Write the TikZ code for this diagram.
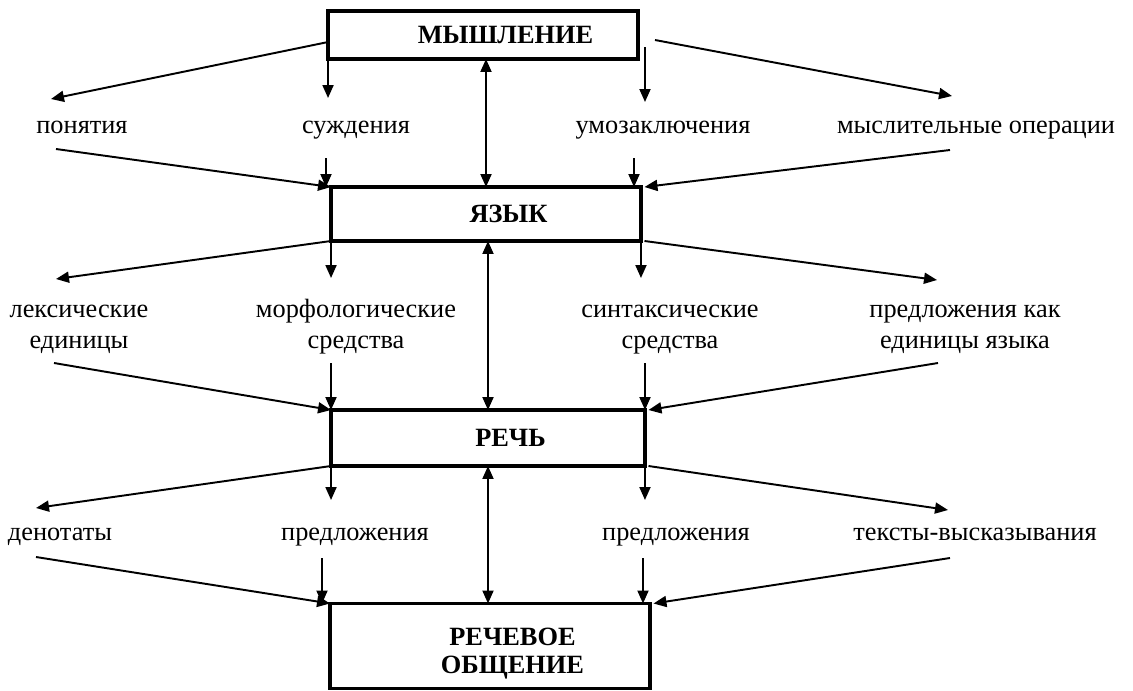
\documentclass[tikz,border=0pt]{standalone}
\usepackage{fontspec}
\setmainfont{Liberation Serif}
\usetikzlibrary{arrows.meta}

\tikzset{
  blok/.style={draw, line width=1.8pt, outer sep=0pt, inner sep=0pt, align=center,
    font=\fontsize{15}{16}\selectfont\bfseries},
  lbl/.style={anchor=base, align=center, inner sep=1pt, font=\fontsize{15}{17.6}\selectfont},
  arr/.style={line width=1.1pt, -{Triangle[length=2.6mm,width=2.2mm]}},
  dbl/.style={line width=1.1pt, {Triangle[length=2.6mm,width=2.2mm]}-{Triangle[length=2.6mm,width=2.2mm]}}
}

\begin{document}
\begin{tikzpicture}[x=0.02cm,y=-0.02cm]
			\useasboundingbox (0,0) rectangle (1133,690);
			
			% draw boxes
			\node[blok, minimum width=6.2cm, minimum height=0.96cm] (myshl) at (483,35) {\hspace*{0.9cm}МЫШЛЕНИЕ};
			\node[blok, minimum width=6.2cm, minimum height=1.08cm] (yazyk) at (486,214) {\hspace*{0.9cm}ЯЗЫК};
			\node[blok, minimum width=6.28cm, minimum height=1.12cm] (rech) at (488,438) {\hspace*{0.9cm}РЕЧЬ};
			\node[blok, minimum width=6.4cm, minimum height=1.7cm] (obsh) at (490,646) {\rule{0pt}{6.5mm}\hspace*{0.9cm}РЕЧЕВОЕ\\\hspace*{0.9cm}ОБЩЕНИЕ};
			
			% draw labels
			\node[lbl] (ponyat) at (82,133) {понятия};
			\node[lbl] (suzhd) at (356,133) {суждения};
			\node[lbl] (umoz) at (663,133) {умозаключения};
			\node[lbl] (mysl) at (976,133) {мыслительные операции};
			
			\node[lbl] (leks) at (79,348) {лексические\\единицы};
			\node[lbl] (morf) at (356,348) {морфологические\\средства};
			\node[lbl] (sint) at (670,348) {синтаксические\\средства};
			\node[lbl] (pred) at (965,348) {предложения как\\единицы языка};
			
			\node[lbl] (denot) at (60,540) {денотаты};
			\node[lbl] (predA) at (355,540) {предложения};
			\node[lbl] (predB) at (676,540) {предложения};
			\node[lbl] (teksty) at (975,540) {тексты-высказывания};
			
			% free ends of arrows
			\coordinate (ponyat-a) at (51,99);   \coordinate (ponyat-b) at (56,149);
			\coordinate (suzhd-a) at (328,98);   \coordinate (suzhd-b) at (326,158);
			\coordinate (umoz-s) at (645,47);    \coordinate (umoz-a) at (645,102);
			\coordinate (umoz-b) at (634,158);
			\coordinate (mysl-a) at (952,96);    \coordinate (mysl-b) at (950,150);
			
			\coordinate (leks-a) at (56,279);    \coordinate (leks-b) at (54,363);
			\coordinate (morf-a) at (331,278);   \coordinate (morf-b) at (331,363);
			\coordinate (sint-a) at (641,278);   \coordinate (sint-b) at (645,363);
			\coordinate (pred-a) at (937,280);   \coordinate (pred-b) at (938,363);
			
			\coordinate (denot-a) at (36,508);   \coordinate (denot-b) at (36,557);
			\coordinate (predA-a) at (331,500);  \coordinate (predA-b) at (322,558);
			\coordinate (predB-a) at (645,500);  \coordinate (predB-b) at (643,558);
			\coordinate (teksty-a) at (948,510); \coordinate (teksty-b) at (950,558);
			
			% thinking -> language
			\draw[arr] ([yshift=-4pt]myshl.west) -- (ponyat-a);
			\draw[arr] (myshl.south west) -- (myshl.south west |- suzhd-a);
			\draw[arr] (umoz-s) -- (umoz-a);
			\draw[arr] ([shift={(17,5)}]myshl.east) -- (mysl-a);
			\draw[arr] (ponyat-b) -- (yazyk.north west);
			\draw[arr] (suzhd-b) -- (suzhd-b |- yazyk.north);
			\draw[arr] (umoz-b) -- (umoz-b |- yazyk.north);
			\draw[arr] (mysl-b) -- ([xshift=2pt]yazyk.north east);
			\draw[dbl] (yazyk.north |- myshl.south) -- (yazyk.north);
			
			% language -> speech
			\draw[arr] (yazyk.south west) -- (leks-a);
			\draw[arr] (yazyk.south west) -- (yazyk.south west |- morf-a);
			\draw[arr] (yazyk.south east) -- (yazyk.south east |- sint-a);
			\draw[arr] ([xshift=2pt]yazyk.south east) -- (pred-a);
			\draw[arr] (leks-b) -- (rech.north west);
			\draw[arr] (morf-b) -- (morf-b |- rech.north);
			\draw[arr] (sint-b) -- (sint-b |- rech.north);
			\draw[arr] (pred-b) -- ([xshift=2pt]rech.north east);
			\draw[dbl] (rech.north |- yazyk.south) -- (rech.north);
			
			% speech -> communication
			\draw[arr] (rech.south west) -- (denot-a);
			\draw[arr] (rech.south west) -- (rech.south west |- predA-a);
			\draw[arr] (rech.south east) -- (rech.south east |- predB-a);
			\draw[arr] ([xshift=2pt]rech.south east) -- (teksty-a);
			\draw[arr] (denot-b) -- (obsh.north west);
			\draw[arr] (predA-b) -- (predA-b |- obsh.north);
			\draw[arr] (predB-b) -- (predB-b |- obsh.north);
			\draw[arr] (teksty-b) -- ([xshift=2pt]obsh.north east);
			\draw[dbl] (rech.south) -- (rech.south |- obsh.north);
\end{tikzpicture}
\end{document}
